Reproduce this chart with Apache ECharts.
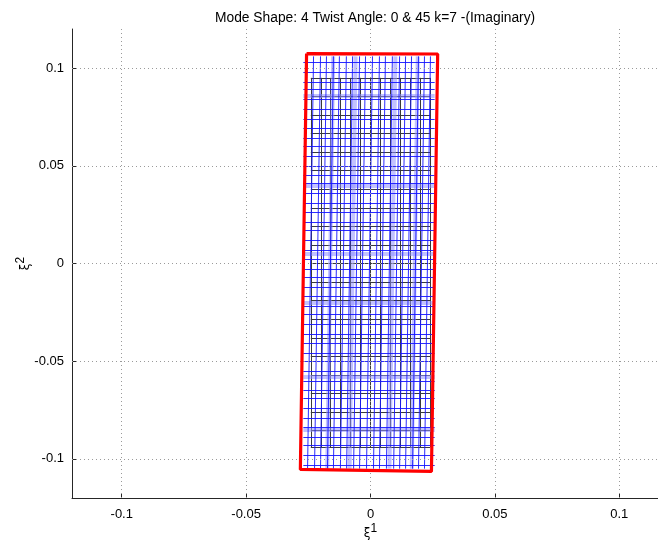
<!DOCTYPE html>
<html><head><meta charset="utf-8">
<script src="https://cdn.jsdelivr.net/npm/echarts@6/dist/echarts.min.js"></script>
<style>html,body{margin:0;padding:0;background:#fff;overflow:hidden}#c{width:669px;height:544px}</style>
</head><body><div id="c"></div>
<script>
// ---- data ----
const titleText = 'Mode Shape: 4 Twist Angle: 0 & 45 k=7 -(Imaginary)';
const xTicks = [-0.1, -0.05, 0, 0.05, 0.1];
const yTicks = [-0.1, -0.05, 0, 0.05, 0.1];
// deformed outline (red), closed
const redX = [-0.0257, 0.0270, 0.0245, -0.0282, -0.0257];
const redY = [0.1074, 0.1072, -0.1064, -0.1054, 0.1074];
// undeformed mesh (black)
const blackX = [-0.024, -0.020, -0.016, -0.012, -0.008, -0.004, 0.000, 0.004, 0.008, 0.012, 0.016, 0.020, 0.024];
const blackY = [0.095, 0.0855, 0.076, 0.0665, 0.057, 0.0475, 0.038, 0.0285, 0.019, 0.0095, 0.000,
                -0.0095, -0.019, -0.0285, -0.038, -0.0475, -0.057, -0.0665, -0.076, -0.0855, -0.094];
// deformed mesh (blue): vertical lines top/bottom x, horizontal lines y
const blueVTop = [-0.0229, -0.0201, -0.0177, -0.0149, -0.0125, -0.0097, -0.0072, -0.0044, -0.0020, 0.0008,
                  0.0036, 0.0060, 0.0088, 0.0117, 0.0141, 0.0165, 0.0193, 0.0217, 0.0241];
const blueVBot = [-0.0253, -0.0225, -0.0201, -0.0173, -0.0149, -0.0121, -0.0096, -0.0068, -0.0044, -0.0016,
                  0.0012, 0.0036, 0.0064, 0.0093, 0.0117, 0.0141, 0.0169, 0.0193, 0.0217];
const blueVTopY = 0.1060;
const blueVBotY = -0.1050;
const blueHY = [0.103, 0.098, 0.093, 0.089, 0.084, 0.079, 0.074, 0.069, 0.064, 0.060, 0.055, 0.050, 0.045,
                0.041, 0.036, 0.031, 0.026, 0.021, 0.017, 0.012, 0.007, 0.002, -0.003, -0.007, -0.012,
                -0.017, -0.022, -0.026, -0.031, -0.036, -0.041, -0.046, -0.050, -0.055, -0.060, -0.065,
                -0.069, -0.074, -0.079, -0.084, -0.089, -0.093, -0.098, -0.103];
const blueHLeft = -0.0270;
const blueHRight = 0.0258;
// translucent thick lines
const thickVTop = [-0.0150, -0.0060, 0.0100, 0.0190];
const thickVBot = [-0.0174, -0.0084, 0.0076, 0.0166];
const thickHY = [0.086, 0.040, 0.005, -0.020, -0.058, -0.085];

// ---- build ----
const seg = (a, b) => ({coords: [a, b]});
const blackSegs = [];
blackX.forEach(x => blackSegs.push(seg([x, blackY[0]], [x, blackY[blackY.length - 1]])));
blackY.forEach(y => blackSegs.push(seg([blackX[0], y], [blackX[blackX.length - 1], y])));
const blueSegs = [];
blueVTop.forEach((x, i) => blueSegs.push(seg([x, blueVTopY], [blueVBot[i], blueVBotY])));
blueHY.forEach(y => blueSegs.push(seg([blueHLeft, y], [blueHRight, y])));
const thickSegs = [];
thickVTop.forEach((x, i) => thickSegs.push(seg([x, blueVTopY], [thickVBot[i], blueVBotY])));
thickHY.forEach(y => thickSegs.push(seg([blueHLeft, y], [blueHRight, y])));

const gridLineStyle = {color: '#9a9a9a', type: [1, 3], width: 1};
const chart = echarts.init(document.getElementById('c'), null, {renderer: 'canvas'});
chart.setOption({
  animation: false,
  backgroundColor: '#fff',
  title: {text: titleText, left: 210, top: 6,
          textStyle: {fontFamily: 'Liberation Sans', fontSize: 13.8, fontWeight: 'normal', color: '#000'}},
  grid: {left: 72, top: 29, right: 0, bottom: 46, containLabel: false, outerBoundsMode: 'none'},
  xAxis: {
    type: 'value', min: -0.12, max: 0.12,
    axisLine: {onZero: false, lineStyle: {color: '#262626', width: 1}},
    axisTick: {inside: true, length: 5, customValues: xTicks, lineStyle: {color: '#262626'}},
    axisLabel: {customValues: xTicks, formatter: v => String(v), margin: 10,
                fontFamily: 'Liberation Sans', fontSize: 13, color: '#000'},
    splitLine: {show: false},
    name: '{a|ξ}{b|1}', nameLocation: 'middle', nameGap: 25, nameMoveOverlap: false,
    nameTextStyle: {rich: {a: {fontFamily: 'DejaVu Sans', fontSize: 12, color: '#000'},
                           b: {fontFamily: 'Liberation Sans', fontSize: 12, color: '#000', padding: [0, 0, 10, 0]}}}
  },
  yAxis: {
    type: 'value', min: -0.12, max: 0.12,
    axisLine: {show: true, onZero: false, lineStyle: {color: '#262626', width: 1}},
    axisTick: {show: true, inside: true, length: 5, customValues: yTicks, lineStyle: {color: '#262626'}},
    axisLabel: {customValues: yTicks, formatter: v => String(v), margin: 8,
                fontFamily: 'Liberation Sans', fontSize: 13, color: '#000'},
    splitLine: {show: false},
    name: '{a|ξ}{b|2}', nameLocation: 'middle', nameGap: 35, nameRotate: 90, nameMoveOverlap: false,
    nameTextStyle: {rich: {a: {fontFamily: 'DejaVu Sans', fontSize: 12, color: '#000'},
                           b: {fontFamily: 'Liberation Sans', fontSize: 12, color: '#000', padding: [0, 0, 10, 0]}}}
  },
  series: [
    {type: 'line', data: [[0, 0]], symbol: 'none', lineStyle: {opacity: 0}, silent: true, z: 1,
     markLine: {silent: true, symbol: ['none', 'none'], label: {show: false}, lineStyle: gridLineStyle,
                data: xTicks.map(v => ({xAxis: v})).concat(yTicks.map(v => ({yAxis: v})))}},
    {type: 'lines', coordinateSystem: 'cartesian2d', polyline: false, data: blackSegs, silent: true, z: 2,
     lineStyle: {color: '#3a3a3a', width: 1, opacity: 1}},
    {type: 'lines', coordinateSystem: 'cartesian2d', polyline: false, data: thickSegs, silent: true, z: 3,
     lineStyle: {color: '#8f8fff', width: 4, opacity: 0.55}},
    {type: 'lines', coordinateSystem: 'cartesian2d', polyline: false, data: blueSegs, silent: true, z: 4,
     lineStyle: {color: '#1515ff', width: 1, opacity: 0.9}},
    {type: 'line', data: redX.map((x, i) => [x, redY[i]]), symbol: 'none', silent: true, z: 5,
     lineStyle: {color: '#ff0000', width: 3.2}}
  ]
});
</script></body></html>
